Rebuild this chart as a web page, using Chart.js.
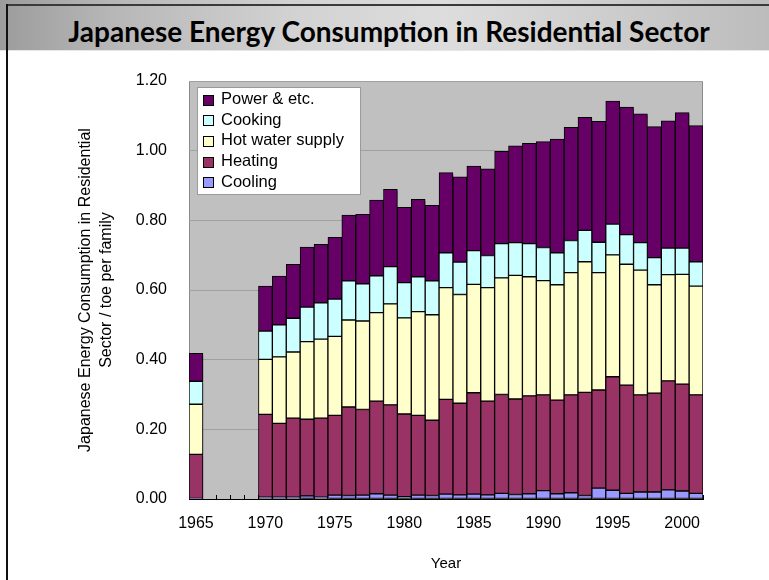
<!DOCTYPE html>
<html>
<head>
<meta charset="utf-8">
<title>Japanese Energy Consumption in Residential Sector</title>
<script src="https://cdn.jsdelivr.net/npm/chart.js@4.4.0/dist/chart.umd.min.js"></script>
<style>
  html, body { margin: 0; padding: 0; background: #fff; }
  #frame { position: relative; width: 769px; height: 580px; overflow: hidden; }
  #header {
    position: absolute; left: 0; top: 0; width: 769px; height: 50px;
    background: linear-gradient(90deg, #9c9c9c 0%, #b6b6b6 14%, #d2d2d2 38%, #dddddd 58%, #cbcbcb 82%, #bcbcbc 100%);
    border-bottom: 1px solid #e6e6e6;
  }
  #header h1 {
    margin: 0; padding-left: 9px; text-align: center;
    font: bold 28px Lato, "Open Sans", sans-serif; line-height: 62px; color: #000;
  }
  #edgeTop { position: absolute; left: 6px; top: 4px; width: 763px; height: 2px; background: #3a3a3a; }
  #edgeLeft { position: absolute; left: 6px; top: 4px; width: 2px; height: 576px; background: #111; }
  canvas { position: absolute; left: 0; top: 0; }
</style>
</head>
<body>
<div id="frame">
  <canvas id="energyChart" width="769" height="580"></canvas>
  <div id="header"><h1>Japanese Energy Consumption in Residential Sector</h1></div>
  <div id="edgeTop"></div>
  <div id="edgeLeft"></div>
</div>
<script>
// toe per family, 1965 and 1970-2001 (no survey 1966-1969)
const years = [];
for (let y = 1965; y <= 2001; y++) years.push(String(y));

const cooling = [0.002, null, null, null, null,
  0.005, 0.005, 0.005, 0.009, 0.005, 0.011, 0.010, 0.011, 0.015, 0.011,
  0.007, 0.011, 0.010, 0.014, 0.012, 0.014, 0.012, 0.016, 0.013, 0.015,
  0.024, 0.015, 0.018, 0.010, 0.031, 0.025, 0.016, 0.020, 0.020, 0.026,
  0.023, 0.016];
const heating = [0.126, null, null, null, null,
  0.238, 0.212, 0.227, 0.220, 0.227, 0.229, 0.254, 0.246, 0.266, 0.259,
  0.237, 0.229, 0.216, 0.272, 0.263, 0.291, 0.269, 0.284, 0.274, 0.281,
  0.275, 0.269, 0.281, 0.296, 0.282, 0.326, 0.311, 0.279, 0.284, 0.313,
  0.307, 0.283];
const hotWater = [0.144, null, null, null, null,
  0.158, 0.191, 0.190, 0.223, 0.227, 0.227, 0.250, 0.254, 0.254, 0.290,
  0.276, 0.298, 0.303, 0.321, 0.312, 0.311, 0.326, 0.335, 0.355, 0.342,
  0.328, 0.331, 0.351, 0.375, 0.337, 0.350, 0.347, 0.358, 0.311, 0.305,
  0.315, 0.312];
const cooking = [0.066, null, null, null, null,
  0.081, 0.092, 0.097, 0.099, 0.104, 0.107, 0.112, 0.107, 0.106, 0.107,
  0.101, 0.100, 0.097, 0.100, 0.093, 0.097, 0.092, 0.098, 0.094, 0.095,
  0.095, 0.092, 0.092, 0.090, 0.087, 0.088, 0.085, 0.079, 0.078, 0.076,
  0.075, 0.070];
const power = [0.080, null, null, null, null,
  0.129, 0.140, 0.155, 0.172, 0.168, 0.177, 0.189, 0.199, 0.217, 0.222,
  0.216, 0.222, 0.217, 0.230, 0.245, 0.243, 0.249, 0.265, 0.278, 0.288,
  0.304, 0.326, 0.325, 0.325, 0.347, 0.353, 0.366, 0.370, 0.376, 0.366,
  0.389, 0.391];

const yTicks = [0, 0.2, 0.4, 0.6, 0.8, 1.0, 1.2];

const axisFont = { family: "'Liberation Sans', Arial, sans-serif", size: 15 };

function series(label, data, color) {
  return {
    label, data,
    backgroundColor: color,
    borderColor: '#000',
    borderWidth: 1,
    borderSkipped: false,
    barPercentage: 1,
    categoryPercentage: 1
  };
}

// grey plot area with a thin frame
const plotBackground = {
  id: 'plotBackground',
  beforeDraw(chart) {
    const { ctx, chartArea: a } = chart;
    ctx.save();
    ctx.fillStyle = '#c0c0c0';
    ctx.fillRect(a.left, a.top, a.right - a.left, a.bottom - a.top);
    ctx.strokeStyle = '#8a8a8a';
    ctx.lineWidth = 1;
    ctx.strokeRect(a.left + 0.5, a.top + 0.5, a.right - a.left - 1, a.bottom - a.top);
    ctx.restore();
  }
};

// soft drop shadow under the bars
const barShadow = {
  id: 'barShadow',
  beforeDatasetsDraw(chart) {
    const ctx = chart.ctx;
    ctx.save();
    ctx.shadowColor = 'rgba(0,0,0,0.35)';
    ctx.shadowOffsetX = 2;
    ctx.shadowOffsetY = 2;
    ctx.shadowBlur = 0;
  },
  afterDatasetsDraw(chart) {
    chart.ctx.restore();
  }
};

// boxed legend inside the plot, top series first
const boxLegend = {
  id: 'boxLegend',
  afterDatasetsDraw(chart) {
    const { ctx } = chart;
    const sets = chart.data.datasets.slice().reverse();
    const x0 = 197, y0 = 87, w = 163, h = 107, rowH = 20.7;
    ctx.save();
    ctx.fillStyle = '#fff';
    ctx.fillRect(x0, y0, w, h);
    ctx.strokeStyle = '#9a9a9a';
    ctx.lineWidth = 1;
    ctx.strokeRect(x0 + 0.5, y0 + 0.5, w, h);
    ctx.font = "16.5px 'Liberation Sans', Arial, sans-serif";
    ctx.textBaseline = 'middle';
    sets.forEach((ds, i) => {
      const cy = y0 + 11.5 + i * rowH;
      ctx.fillStyle = ds.backgroundColor;
      ctx.fillRect(203.5, Math.round(cy - 4) + 0.5, 10, 10);
      ctx.strokeStyle = '#000';
      ctx.strokeRect(203.5, Math.round(cy - 4) + 0.5, 10, 10);
      ctx.fillStyle = '#000';
      ctx.fillText(ds.label, 221, cy + 1);
    });
    ctx.restore();
  }
};

const chart = new Chart(document.getElementById('energyChart'), {
  type: 'bar',
  data: {
    labels: years,
    datasets: [
      series('Cooling', cooling, '#9999ff'),
      series('Heating', heating, '#993366'),
      series('Hot water supply', hotWater, '#ffffcc'),
      series('Cooking', cooking, '#ccffff'),
      series('Power & etc.', power, '#660066')
    ]
  },
  options: {
    responsive: false,
    animation: false,
    layout: { padding: { left: 0, right: 66, top: 81, bottom: 0 } },
    plugins: {
      legend: { display: false },
      tooltip: { enabled: false },
      title: { display: false }
    },
    scales: {
      x: {
        stacked: true,
        afterFit(scale) { scale.height = 81; },
        grid: {
          offset: true,
          drawOnChartArea: false,
          drawTicks: true,
          tickLength: -4,
          tickColor: '#000'
        },
        border: { display: true, color: '#000', width: 1 },
        ticks: {
          autoSkip: false,
          maxRotation: 0,
          padding: 19,
          color: '#000',
          font: { family: axisFont.family, size: 16 },
          callback(value) {
            const y = Number(this.getLabelForValue(value));
            return y % 5 === 0 ? String(y) : '';
          }
        },
        title: {
          display: true,
          text: 'Year',
          color: '#000',
          font: axisFont,
          padding: { top: 0, bottom: 7 }
        }
      },
      y: {
        stacked: true,
        min: 0,
        max: 1.2,
        afterFit(scale) { scale.width = 189; },
        afterBuildTicks(scale) { scale.ticks = yTicks.map(v => ({ value: v })); },
        grid: { color: '#a0a0a0', drawTicks: false },
        border: { display: false },
        ticks: {
          padding: 22,
          color: '#000',
          font: { family: axisFont.family, size: 16 },
          callback: v => v.toFixed(2)
        },
        title: {
          display: true,
          text: ['Japanese Energy Consumption in Residential', 'Sector / toe per family'],
          color: '#000',
          font: { family: axisFont.family, size: 16, lineHeight: 1.3 },
          padding: { top: 75, bottom: 0 }
        }
      }
    }
  },
  plugins: [plotBackground, barShadow, boxLegend]
});
</script>
</body>
</html>
